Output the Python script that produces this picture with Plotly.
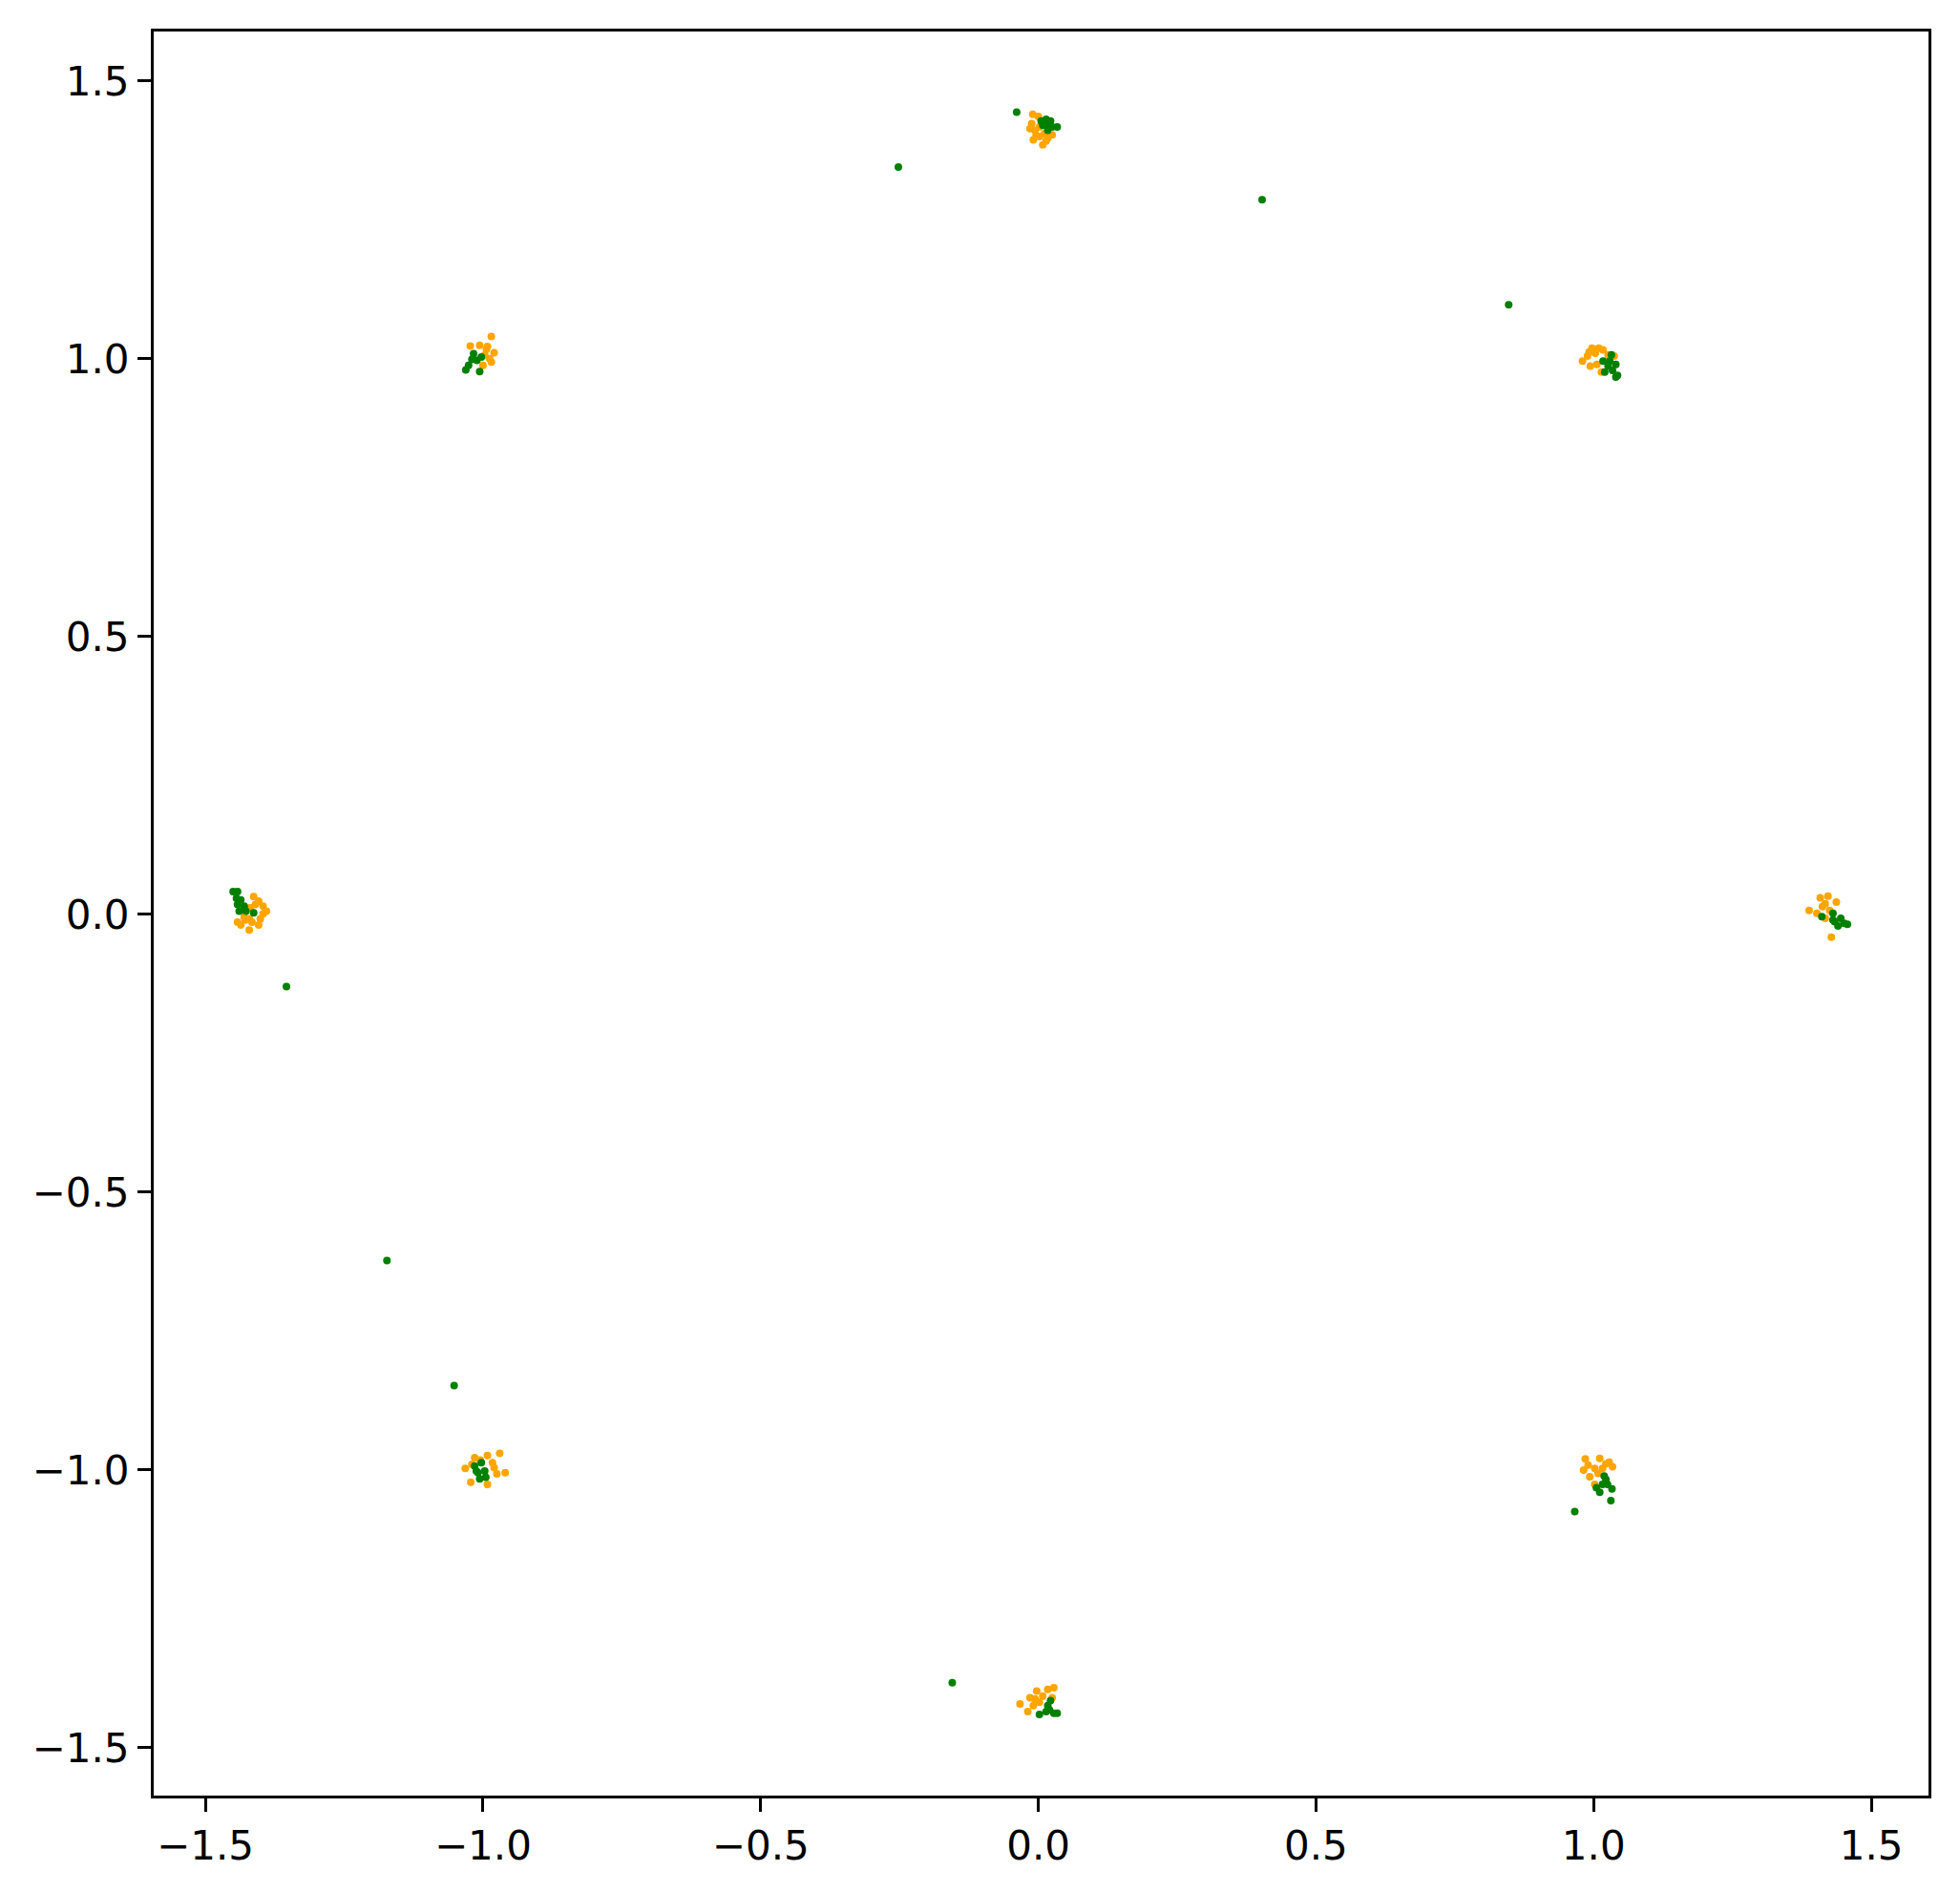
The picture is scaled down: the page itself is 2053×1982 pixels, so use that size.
import plotly.graph_objects as go

# orange points (drawn first)
orange_x = [
    -0.010, 0.000, -0.012, -0.006, -0.009, 0.002, 0.008, 0.017, 0.025, 0.002, 0.011, -0.015, -0.004, 0.014,
    -0.985, -1.023, -1.006, -0.994, -0.980, -0.997, -0.985, -1.000, -0.988, -0.992,
    0.980, 0.989, 0.997, 1.009, 1.017, 1.026, 0.994, 1.006, 1.014, 1.037, 1.003, 0.992,
    -1.413, -1.404, -1.396, -1.390, -1.410, -1.419, -1.421, -1.430, -1.442, -1.436, -1.416, -1.404, -1.401, -1.421, -1.396, -1.428,
    1.388, 1.402, 1.408, 1.422, 1.417, 1.425, 1.437, 1.417, 1.428, 1.412,
    -1.032, -1.015, -0.992, -0.970, -0.983, -0.975, -0.960, -0.992, -1.022, -1.020, -0.980, -1.005,
    0.985, 0.982, 0.990, 1.011, 1.028, 1.034, 1.002, 0.993, 1.016, 1.002, 1.022, 1.008,
    -0.033, -0.019, -0.015, -0.003, 0.008, 0.017, 0.028, 0.002, -0.009, 0.025, -0.006,
]
orange_y = [
    1.440, 1.436, 1.423, 1.411, 1.394, 1.400, 1.385, 1.397, 1.403, 1.417, 1.405, 1.414, 1.402, 1.392,
    1.040, 1.023, 1.024, 1.017, 1.011, 1.006, 0.994, 0.988, 1.000, 1.022,
    0.996, 1.005, 1.019, 1.019, 1.016, 1.007, 0.987, 0.990, 0.976, 1.005, 1.010, 1.012,
    0.032, 0.024, 0.015, 0.006, 0.018, 0.012, -0.008, -0.005, -0.014, -0.019, -0.014, -0.019, -0.008, -0.028, 0.001, -0.010,
    0.007, 0.002, 0.030, 0.033, 0.019, 0.007, 0.022, -0.007, -0.041, 0.014,
    -0.997, -0.978, -0.974, -0.970, -0.987, -1.007, -1.005, -1.026, -1.022, -0.990, -0.996, -0.982,
    -0.980, -1.000, -0.991, -0.979, -0.986, -0.994, -0.997, -1.012, -0.997, -1.026, -0.989, -1.006,
    -1.421, -1.435, -1.410, -1.398, -1.407, -1.395, -1.392, -1.418, -1.424, -1.410, -1.412,
]

# green points (drawn on top)
green_x = [
    0.005, 0.014, 0.022, 0.008, 0.017, 0.025, 0.034, 0.017, 0.011, -0.039,
    -1.031, -1.026, -1.020, -1.017, -1.011, -1.003, -1.006,
    1.032, 1.017, 1.040, 1.026, 1.034, 1.020, 1.043, 1.040, 1.029,
    -1.450, -1.442, -1.444, -1.436, -1.442, -1.430, -1.439, -1.427, -1.413,
    1.411, 1.431, 1.434, 1.445, 1.451, 1.457, 1.440, 1.431,
    -1.015, -1.003, -1.009, -0.997, -1.006, -0.995, -1.012,
    1.019, 1.022, 1.016, 1.025, 1.005, 1.011, 1.033, 1.031, 0.966,
    0.002, 0.017, 0.022, 0.020, 0.028, 0.034, 0.014,
    -0.252, 0.403, 0.847, -1.354, -1.173, -1.052, -0.155,
]
green_y = [
    1.428, 1.431, 1.428, 1.420, 1.423, 1.417, 1.417, 1.411, 1.426, 1.444,
    0.980, 0.988, 0.999, 1.009, 0.997, 1.003, 0.977,
    1.007, 0.996, 0.990, 0.987, 0.979, 0.976, 0.970, 0.967, 0.996,
    0.041, 0.041, 0.029, 0.026, 0.018, 0.015, 0.006, 0.006, 0.003,
    -0.004, 0.002, -0.013, -0.007, -0.016, -0.018, -0.021, -0.010,
    -0.993, -0.987, -1.005, -1.002, -1.016, -1.013, -1.002,
    -1.011, -1.017, -1.026, -1.026, -1.032, -1.040, -1.034, -1.055, -1.075,
    -1.440, -1.424, -1.415, -1.432, -1.438, -1.438, -1.435,
    1.345, 1.286, 1.097, -0.130, -0.623, -0.848, -1.383,
]

tick_vals = [-1.5, -1.0, -0.5, 0.0, 0.5, 1.0, 1.5]
tick_text = ["\u22121.5", "\u22121.0", "\u22120.5", "0.0", "0.5", "1.0", "1.5"]

fig = go.Figure()
fig.add_trace(go.Scatter(x=orange_x, y=orange_y, mode="markers",
                         marker=dict(color="orange", size=8, line=dict(width=0))))
fig.add_trace(go.Scatter(x=green_x, y=green_y, mode="markers",
                         marker=dict(color="green", size=8, line=dict(width=0))))

axis_style = dict(showline=True, linewidth=3, linecolor="black", mirror=True,
                  showgrid=False, zeroline=False,
                  ticks="outside", ticklen=14, tickwidth=3, tickcolor="black",
                  tickvals=tick_vals, ticktext=tick_text,
                  tickfont=dict(family="DejaVu Sans", size=42, color="black"))

# page body adds an 8px offset, so margins are shifted to compensate
fig.update_layout(
    width=2053, height=1982,
    showlegend=False,
    plot_bgcolor="white", paper_bgcolor="white",
    margin=dict(l=153, r=41, t=25, b=109),
    xaxis=dict(range=[-1.593, 1.603], **axis_style),
    yaxis=dict(range=[-1.586, 1.589], **axis_style),
)

fig.write_html("out.html")
